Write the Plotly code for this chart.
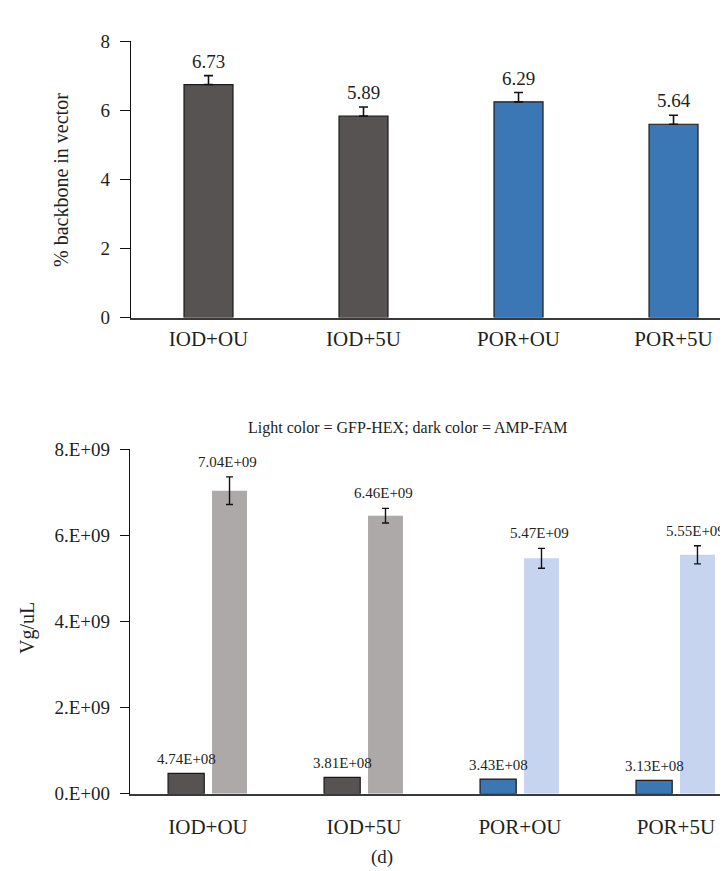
import plotly.graph_objects as go

# ---- data ----
categories = ["IOD+OU", "IOD+5U", "POR+OU", "POR+5U"]

# top panel: % backbone in vector
backbone_values = [6.75, 5.84, 6.25, 5.60]
backbone_labels = ["6.73", "5.89", "6.29", "5.64"]
backbone_err = [0.26, 0.26, 0.27, 0.26]
backbone_colors = ["#575352", "#575352", "#3B77B5", "#3B77B5"]

# bottom panel: Vg/uL
amp_fam = [4.74e8, 3.81e8, 3.43e8, 3.13e8]          # dark
amp_labels = ["4.74E+08", "3.81E+08", "3.43E+08", "3.13E+08"]
gfp_hex = [7.04e9, 6.46e9, 5.47e9, 5.55e9]          # light
gfp_labels = ["7.04E+09", "6.46E+09", "5.47E+09", "5.55E+09"]
gfp_err = [0.32e9, 0.17e9, 0.23e9, 0.21e9]
dark_colors = ["#575352", "#575352", "#3B77B5", "#3B77B5"]
light_colors = ["#ADA9A8", "#ADA9A8", "#C6D4F0", "#C6D4F0"]

vg_ticks = [0, 2e9, 4e9, 6e9, 8e9]
vg_ticktext = ["0.E+00", "2.E+09", "4.E+09", "6.E+09", "8.E+09"]

W, H = 728, 871
FONT = "Liberation Serif"
TXT = "#231f20"

fig = go.Figure()

# top bars
fig.add_trace(go.Bar(
    x=list(range(4)), y=backbone_values, width=0.316,
    marker=dict(color=backbone_colors, line=dict(color="#1a1a1a", width=1.2)),
    error_y=dict(type="data", array=backbone_err, arrayminus=[0]*4, symmetric=False,
                 color="#111111", thickness=1.6, width=4.5),
    xaxis="x", yaxis="y", showlegend=False, hoverinfo="skip"))

# bottom dark bars
fig.add_trace(go.Bar(
    x=list(range(4)), y=amp_fam, width=0.232, offset=-0.256,
    marker=dict(color=dark_colors, line=dict(color="#1a1a1a", width=1.2)),
    xaxis="x2", yaxis="y2", showlegend=False, hoverinfo="skip"))

# bottom light bars
fig.add_trace(go.Bar(
    x=list(range(4)), y=gfp_hex, width=0.224, offset=0.026,
    marker=dict(color=light_colors, line=dict(width=0)),
    error_y=dict(type="data", array=gfp_err, color="#111111", thickness=1.4, width=3.5),
    xaxis="x2", yaxis="y2", showlegend=False, hoverinfo="skip"))

annotations = []
for i in range(4):
    annotations.append(dict(x=i, y=backbone_values[i] + backbone_err[i], xref="x", yref="y",
                            text=backbone_labels[i], showarrow=False, yanchor="bottom",
                            xanchor="center", yshift=2,
                            font=dict(family=FONT, size=19, color=TXT)))
    annotations.append(dict(x=i - 0.256 + 0.116, y=amp_fam[i], xref="x2", yref="y2",
                            text=amp_labels[i], showarrow=False, yanchor="bottom",
                            xanchor="center", yshift=4,
                            font=dict(family=FONT, size=15, color=TXT)))
    annotations.append(dict(x=i + 0.026 + 0.112 - 0.015, y=gfp_hex[i] + gfp_err[i], xref="x2", yref="y2",
                            text=gfp_labels[i], showarrow=False, yanchor="bottom",
                            xanchor="center", yshift=5,
                            font=dict(family=FONT, size=15, color=TXT)))

annotations += [
    dict(x=53 / W, y=1 - 166 / H, xref="paper", yref="paper", text="% backbone in vector",
         textangle=-90, showarrow=False, xanchor="center", yanchor="middle",
         font=dict(family=FONT, size=20, color=TXT)),
    dict(x=20 / W, y=1 - 625 / H, xref="paper", yref="paper", text="Vg/uL",
         textangle=-90, showarrow=False, xanchor="center", yanchor="middle",
         font=dict(family=FONT, size=20, color=TXT)),
    dict(x=400 / W, y=1 - 420 / H, xref="paper", yref="paper",
         text="Light color = GFP-HEX; dark color = AMP-FAM",
         showarrow=False, xanchor="center", yanchor="middle",
         font=dict(family=FONT, size=16, color=TXT)),
    dict(x=374 / W, y=1 - 860 / H, xref="paper", yref="paper", text="(d)",
         showarrow=False, xanchor="center", yanchor="middle",
         font=dict(family=FONT, size=19, color=TXT)),
]

fig.update_layout(
    width=W, height=H, autosize=False,
    margin=dict(l=0, r=0, t=0, b=0),
    paper_bgcolor="white", plot_bgcolor="white",
    font=dict(family=FONT, size=18, color=TXT),
    barmode="overlay",
    annotations=annotations,
    xaxis=dict(domain=[123 / W, 1], range=[-0.5, 3.403], anchor="y",
               tickvals=list(range(4)), ticktext=categories, ticks="",
               showline=True, linecolor="#3a3a3a", linewidth=1.6, showgrid=False, zeroline=False,
               ticklabelstandoff=1,
               tickfont=dict(family=FONT, size=21, color=TXT)),
    yaxis=dict(domain=[1 - 307 / H, 1 - 24 / H], range=[0, 8], anchor="x",
               tickvals=[0, 2, 4, 6, 8], ticks="outside", ticklen=10, tickcolor="#111", tickwidth=1.2,
               showline=True, linecolor="#111", linewidth=1.2, showgrid=False, zeroline=False,
               ticklabelstandoff=6,
               tickfont=dict(family=FONT, size=19, color=TXT)),
    xaxis2=dict(domain=[122 / W, 1], range=[-0.5, 3.385], anchor="y2",
                tickvals=list(range(4)), ticktext=categories, ticks="",
                showline=True, linecolor="#3a3a3a", linewidth=1.6, showgrid=False, zeroline=False,
                ticklabelstandoff=13,
                tickfont=dict(family=FONT, size=21, color=TXT)),
    yaxis2=dict(domain=[1 - 795 / H, 1 - 442 / H], range=[0, 8e9], anchor="x2",
                tickvals=vg_ticks, ticktext=vg_ticktext, ticks="outside", ticklen=9,
                tickcolor="#111", tickwidth=1.2,
                showline=True, linecolor="#111", linewidth=1.2, showgrid=False, zeroline=False,
                ticklabelstandoff=6,
                tickfont=dict(family=FONT, size=19, color=TXT)),
)

fig.write_html("out.html")
